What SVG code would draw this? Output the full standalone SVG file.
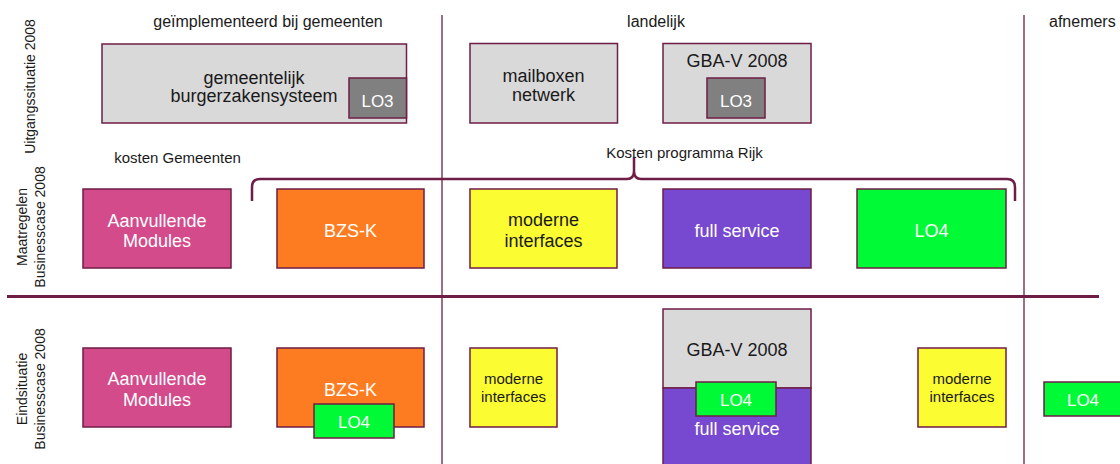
<svg xmlns="http://www.w3.org/2000/svg" width="1120" height="464" viewBox="0 0 1120 464">
<style>
text{font-family:"Liberation Sans",Arial,sans-serif;fill:#1a1a1a}
.lbl{font-size:16px}
.sm{font-size:15px}
.side{font-size:14px}
.b{font-size:18px;text-anchor:middle}
.s{font-size:15px;text-anchor:middle}
.lo{font-size:17px;text-anchor:middle;fill:#ffffff}
.w{fill:#ffffff}
.box{stroke:#6e1e45;stroke-width:1.5}
.gray{fill:#d9d9d9}
.dgray{fill:#808080}
.pink{fill:#d34b8b}
.orange{fill:#fd7c21}
.yellow{fill:#fcfc33}
.purple{fill:#7649d0}
.green{fill:#00fb36}
.line{stroke:#6e1e45;fill:none}
</style>
<rect width="1120" height="464" fill="#ffffff"/>
<g id="connectors">
<line class="line" x1="442" y1="15" x2="442" y2="464" stroke-width="1.3"/>
<line class="line" x1="1024" y1="15" x2="1024" y2="464" stroke-width="1.3"/>
<line class="line" x1="7" y1="296.5" x2="1099" y2="296.5" stroke-width="3"/>
<path class="line" stroke-width="2.5" d="M252 201 L252 187 Q252 179 260 179 L627 179 Q634 179 634 171 L634 157 M634 171 Q634 179 641 179 L1007 179 Q1015 179 1015 187 L1015 201"/>
</g>
<g id="headers">
<text class="lbl" x="268" y="27" text-anchor="middle">geïmplementeerd bij gemeenten</text>
<text class="lbl" x="656" y="27" text-anchor="middle">landelijk</text>
<text class="lbl" x="1049" y="27">afnemers</text>
<text class="sm" x="177.5" y="163" text-anchor="middle">kosten Gemeenten</text>
<text class="sm" x="684.5" y="158" text-anchor="middle">Kosten programma Rijk</text>
<text class="side" text-anchor="middle" transform="translate(35,86.5) rotate(-90)">Uitgangssituatie 2008</text>
<text class="side" text-anchor="middle" transform="translate(26.5,227) rotate(-90)">Maatregelen</text>
<text class="side" text-anchor="middle" transform="translate(44.5,227) rotate(-90)">Businesscase 2008</text>
<text class="side" text-anchor="middle" transform="translate(26.5,389) rotate(-90)">Eindsituatie</text>
<text class="side" text-anchor="middle" transform="translate(44.5,389) rotate(-90)">Businesscase 2008</text>
</g>
<g id="burgerzakensysteem">
<rect class="box gray" x="102" y="44" width="304.5" height="79"/>
<text class="b" x="254" y="84">gemeentelijk</text>
<text class="b" x="254" y="102">burgerzakensysteem</text>
<rect class="box dgray" x="349" y="78" width="57.5" height="40"/>
<text class="lo" x="377.5" y="107">LO3</text>
</g>
<g id="mailboxen">
<rect class="box gray" x="470" y="43.5" width="147.5" height="79.5"/>
<text class="b" x="543.5" y="82">mailboxen</text>
<text class="b" x="543.5" y="101">netwerk</text>
</g>
<g id="gbav-top">
<rect class="box gray" x="663" y="43.5" width="148" height="79.5"/>
<text class="b" x="737" y="67">GBA-V 2008</text>
<rect class="box dgray" x="707" y="78" width="58" height="40"/>
<text class="lo" x="736" y="107">LO3</text>
</g>
<g id="aanvullende-m">
<rect class="box pink" x="83" y="189" width="148" height="79"/>
<text class="b w" x="157" y="227">Aanvullende</text>
<text class="b w" x="157" y="247">Modules</text>
</g>
<g id="bzsk-m">
<rect class="box orange" x="277" y="189" width="147" height="79"/>
<text class="b w" x="350.5" y="237">BZS-K</text>
</g>
<g id="moderne-m">
<rect class="box yellow" x="470" y="189" width="147" height="79"/>
<text class="b" x="543.5" y="226">moderne</text>
<text class="b" x="543.5" y="247">interfaces</text>
</g>
<g id="fullservice-m">
<rect class="box purple" x="663" y="189" width="148" height="79"/>
<text class="b w" x="737" y="237">full service</text>
</g>
<g id="lo4-m">
<rect class="box green" x="857" y="189" width="149" height="79"/>
<text class="b w" x="931.5" y="237">LO4</text>
</g>
<g id="aanvullende-e">
<rect class="box pink" x="83" y="348" width="148" height="79"/>
<text class="b w" x="157" y="385">Aanvullende</text>
<text class="b w" x="157" y="405.5">Modules</text>
</g>
<g id="bzsk-e">
<rect class="box orange" x="277" y="348" width="147" height="79"/>
<text class="b w" x="350.5" y="396">BZS-K</text>
<rect class="box green" x="314" y="404" width="80" height="34"/>
<text class="lo" x="354" y="428">LO4</text>
</g>
<g id="moderne-e1">
<rect class="box yellow" x="470" y="348" width="87" height="79"/>
<text class="s" x="513.5" y="384">moderne</text>
<text class="s" x="513.5" y="402">interfaces</text>
</g>
<g id="gbav-fullservice-e">
<rect class="box gray" x="663" y="309" width="148" height="79"/>
<rect class="box purple" x="663" y="388" width="148" height="82"/>
<text class="b" x="737" y="356">GBA-V 2008</text>
<rect class="box green" x="696" y="382" width="80" height="34"/>
<text class="lo" x="736" y="406">LO4</text>
<text class="b w" x="737" y="435">full service</text>
</g>
<g id="moderne-e2">
<rect class="box yellow" x="918" y="348" width="88" height="79"/>
<text class="s" x="962" y="384">moderne</text>
<text class="s" x="962" y="402">interfaces</text>
</g>
<g id="lo4-afnemers">
<rect class="box green" x="1044" y="382" width="82" height="34"/>
<text class="lo" x="1083" y="406">LO4</text>
</g>
</svg>
